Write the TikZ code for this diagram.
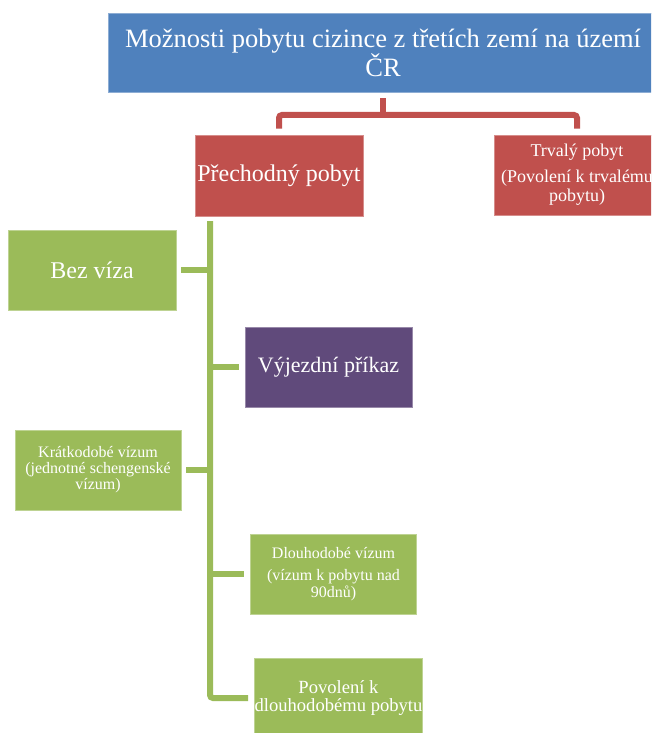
\documentclass[tikz,border=0pt]{standalone}
\usepackage{fontspec}
\setmainfont{Liberation Serif}
\definecolor{cblue}{HTML}{4F81BD}
\definecolor{cred}{HTML}{C0504D}
\definecolor{cgreen}{HTML}{9BBB59}
\definecolor{cpurple}{HTML}{604A7B}
\begin{document}
\begin{tikzpicture}[x=1pt,y=-1pt,
  bx/.style={rectangle, inner sep=0pt, text=white, align=center, line width=0.8pt},
  bluebox/.style={bx, fill=cblue, draw=cblue!65!white},
  redbox/.style={bx, fill=cred, draw=cred!65!white},
  greenbox/.style={bx, fill=cgreen, draw=cgreen!65!white},
  purplebox/.style={bx, fill=cpurple, draw=cpurple!65!white},
  redln/.style={draw=cred, line width=6pt, rounded corners=3pt},
  grln/.style={draw=cgreen, line width=6pt, rounded corners=3pt}]
\useasboundingbox (0,0) rectangle (651,733);
\clip (0,0) rectangle (651,733);
\fill[white] (0,0) rectangle (651,733);

\node[bluebox, minimum width=550pt, minimum height=79pt,
  font=\fontsize{26.5}{29}\selectfont] (title) at (383,52.5)
  {Možnosti pobytu cizince z třetích zemí na území\\ČR};

\node[redbox, minimum width=168pt, minimum height=81pt,
  font=\fontsize{24}{26}\selectfont] (prech) at (279,175.5) {Přechodný pobyt};
\node[redbox, minimum width=166pt, minimum height=80pt,
  font=\fontsize{18}{19}\selectfont] (trv) at (577,175)
  {Trvalý pobyt\\[7pt](Povolení k trvalému\\pobytu)};

\node[greenbox, minimum width=168pt, minimum height=80pt,
  font=\fontsize{24}{26}\selectfont] (bez) at (92,270) {Bez víza};
\node[purplebox, minimum width=167pt, minimum height=80pt,
  font=\fontsize{22}{24}\selectfont] (vyj) at (328.5,367) {Výjezdní příkaz};
\node[greenbox, minimum width=166pt, minimum height=80pt,
  font=\fontsize{16}{16}\selectfont] (krat) at (98,470)
  {Krátkodobé vízum\\(jednotné schengenské\\vízum)};
\node[greenbox, minimum width=166pt, minimum height=80pt,
  font=\fontsize{16}{17}\selectfont] (dlou) at (333.5,574)
  {Dlouhodobé vízum\\[5.5pt](vízum k pobytu nad\\90dnů)};
\node[greenbox, minimum width=167pt, minimum height=80pt,
  font=\fontsize{18.6}{18}\selectfont] (pov) at (338.5,698)
  {Povolení k\\dlouhodobému pobytu};

% red connectors
\coordinate (rj) at (383,115);
\draw[redln] ([yshift=6pt]prech.north) |- (rj) -| ([yshift=6pt]trv.north);
\draw[redln, rounded corners=0pt] ([yshift=-6pt]title.south) -- (rj);

% green connectors
\coordinate (gtop) at (210,221);
\draw[grln] (gtop) |- ([xshift=-6pt]pov.west);
\draw[grln, rounded corners=0pt] ([xshift=5pt]bez.east) -- (bez.east -| gtop);
\draw[grln, rounded corners=0pt] (vyj.west -| gtop) -- ([xshift=-6pt]vyj.west);
\draw[grln, rounded corners=0pt] ([xshift=5pt]krat.east) -- (krat.east -| gtop);
\draw[grln, rounded corners=0pt] (dlou.west -| gtop) -- ([xshift=-6pt]dlou.west);
\end{tikzpicture}
\end{document}
